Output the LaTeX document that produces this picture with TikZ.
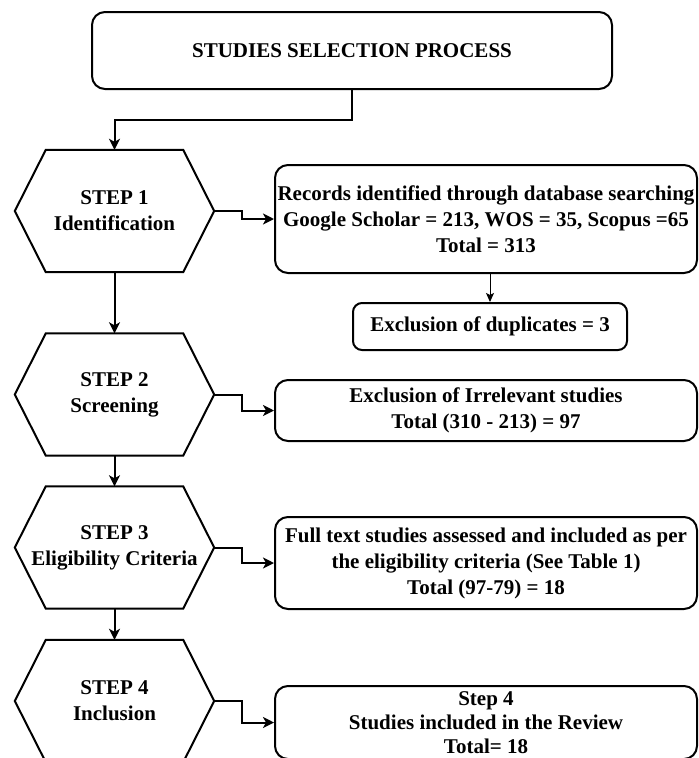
\documentclass[tikz,border=0pt]{standalone}
\usepackage{fontspec}
\setmainfont{Liberation Serif}
\usetikzlibrary{arrows.meta}
\tikzset{
  txt/.style={font=\fontsize{21}{26}\selectfont\bfseries, align=center, inner sep=0pt},
  rbox/.style={txt, draw, line width=2pt, rounded corners=13pt},
  hexbox/.style={txt, minimum width=199pt, minimum height=122pt},
  arr/.style={line width=2pt, -{Stealth[length=11pt,width=11pt,inset=3pt]}},
  thinarr/.style={line width=1pt, -{Stealth[length=9pt,width=8pt,inset=2pt]}},
  hexline/.style={line width=2pt, line join=miter}
}
\newcommand{\drawhex}[1]{%
  \draw[hexline] (#1.west) -- ([xshift=31pt]#1.north west) -- ([xshift=-31pt]#1.north east)
    -- (#1.east) -- ([xshift=-31pt]#1.south east) -- ([xshift=31pt]#1.south west) -- cycle;}
\begin{document}
\begin{tikzpicture}[x=1pt,y=-1pt]
\useasboundingbox (0,0) rectangle (699,758);
% title
\node[rbox, minimum width=520pt, minimum height=77pt] (title) at (352,50.5) {STUDIES SELECTION PROCESS};
% hexagons
\node[hexbox] (h1) at (114.5,211) {STEP 1\\Identification};
\node[hexbox] (h2) at (114.5,394.5) {STEP 2\\Screening};
\node[hexbox] (h3) at (114.5,547.5) {STEP 3\\Eligibility Criteria};
\node[hexbox] (h4) at (114.5,701) {STEP 4\\Inclusion};
\drawhex{h1}\drawhex{h2}\drawhex{h3}\drawhex{h4}
% right boxes
\node[rbox, minimum width=422pt, minimum height=108pt] (ba) at (486,219)
  {Records identified through database searching\\Google Scholar = 213, WOS = 35, Scopus =65\\Total = 313};
\node[rbox, rounded corners=9pt, minimum width=274pt, minimum height=47pt] (dup) at (490,326.5)
  {Exclusion of duplicates = 3};
\node[rbox, minimum width=422pt, minimum height=61pt] (bb) at (486,410.5)
  {Exclusion of Irrelevant studies\\Total (310 - 213) = 97};
\node[rbox, minimum width=422pt, minimum height=92pt] (bc) at (486,563)
  {Full text studies assessed and included as per\\the eligibility criteria (See Table 1)\\Total (97-79) = 18};
\node[rbox, minimum width=422pt, minimum height=73pt, font=\fontsize{21}{24}\selectfont\bfseries] (bd) at (486,722.5)
  {Step 4\\Studies included in the Review\\Total= 18};
% connectors
\draw[arr] (title.south) -- ++(0,30) -| (h1.north);
\draw[arr] (h1.south) -- (h2.north);
\draw[arr] (h2.south) -- (h3.north);
\draw[arr] (h3.south) -- (h4.north);
\draw[arr] (h1.east) -- ++(28,0) |- (ba.west);
\draw[arr] (h2.east) -- ++(28,0) |- (bb.west);
\draw[arr] (h3.east) -- ++(28,0) |- (bc.west);
\draw[arr] (h4.east) -- ++(28,0) |- (bd.west);
\draw[thinarr] (ba.south -| dup.north) -- (dup.north);
\end{tikzpicture}
\end{document}
